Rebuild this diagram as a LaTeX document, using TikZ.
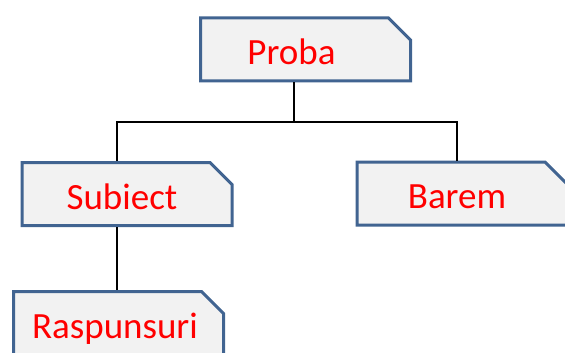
\documentclass[tikz,border=0pt]{standalone}
\usepackage{fontspec}
\setmainfont{Carlito}
\usetikzlibrary{shapes.misc}

\definecolor{boxline}{RGB}{65,100,145}
\definecolor{boxfill}{RGB}{242,242,242}

\tikzset{
  snipbox/.style={chamfered rectangle, chamfered rectangle corners=north east,
    chamfered rectangle xsep=11pt, chamfered rectangle ysep=11pt,
    draw=boxline, fill=boxfill, line width=3pt, inner sep=0pt,
    minimum width=210pt, minimum height=63pt,
    text height=30pt, text depth=0pt,
    text=red, font=\fontsize{37}{42}\selectfont},
  nudge/.style={execute at begin node={\hspace*{#1}}},
  link/.style={draw=black, line width=1.3pt}
}

\begin{document}
\begin{tikzpicture}[x=1pt,y=-1pt]
            \useasboundingbox (0,0) rectangle (565,353);
            \clip (0,0) rectangle (565,353);

            \node[snipbox, nudge=-28pt] (proba) at (305.5,49.5) {Proba};
            \node[snipbox, nudge=-10pt] (subiect) at (127,194) {Subiect};
            \node[snipbox, nudge=-10pt] (barem) at (462,193.5) {Barem};
            \node[snipbox, nudge=-7pt] (raspunsuri) at (118.5,323) {Raspunsuri};

            \coordinate (bus) at (294,122);

            \draw[link] ([xshift=-11.5pt]proba.south) -- (bus);
            \draw[link] (bus) -| ([xshift=-10pt]subiect.north);
            \draw[link] (bus) -| ([xshift=-5pt]barem.north);
            \draw[link] ([xshift=-10pt]subiect.south) -- ([xshift=-10pt]subiect.south |- raspunsuri.north);
        \end{tikzpicture}
\end{document}
